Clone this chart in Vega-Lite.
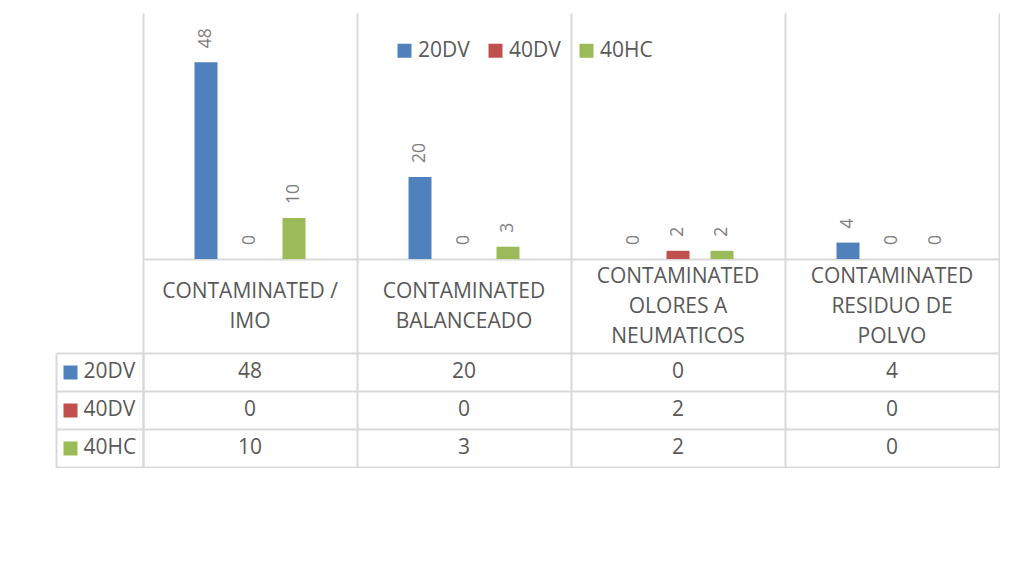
{
  "$schema": "https://vega.github.io/schema/vega-lite/v6.json",
  "padding": {"left": 55, "top": 13, "right": 0, "bottom": 0},
  "autosize": {"type": "pad"},
  "bounds": "flush",
  "spacing": 94,
  "background": "white",
  "config": {
    "font": "Open Sans",
    "view": {"stroke": null},
    "axis": {
      "domainColor": "#d9d9d9", "domainWidth": 2,
      "gridColor": "#d9d9d9", "gridWidth": 2,
      "tickColor": "#d9d9d9", "tickWidth": 2,
      "title": null
    }
  },
  "datasets": {
    "d": [
      {"category": "CONTAMINATED / IMO", "series": "20DV", "value": 48},
      {"category": "CONTAMINATED / IMO", "series": "40DV", "value": 0},
      {"category": "CONTAMINATED / IMO", "series": "40HC", "value": 10},
      {"category": "CONTAMINATED BALANCEADO", "series": "20DV", "value": 20},
      {"category": "CONTAMINATED BALANCEADO", "series": "40DV", "value": 0},
      {"category": "CONTAMINATED BALANCEADO", "series": "40HC", "value": 3},
      {"category": "CONTAMINATED OLORES A NEUMATICOS", "series": "20DV", "value": 0},
      {"category": "CONTAMINATED OLORES A NEUMATICOS", "series": "40DV", "value": 2},
      {"category": "CONTAMINATED OLORES A NEUMATICOS", "series": "40HC", "value": 2},
      {"category": "CONTAMINATED RESIDUO DE POLVO", "series": "20DV", "value": 4},
      {"category": "CONTAMINATED RESIDUO DE POLVO", "series": "40DV", "value": 0},
      {"category": "CONTAMINATED RESIDUO DE POLVO", "series": "40HC", "value": 0}
    ]
  },
  "vconcat": [
    {
      "width": 856,
      "height": 246,
      "data": {"name": "d"},
      "encoding": {
        "xOffset": {
          "field": "series", "type": "nominal",
          "sort": ["20DV", "40DV", "40HC"],
          "scale": {"paddingInner": 0, "paddingOuter": 0.932}
        },
        "y": {
          "field": "value", "type": "quantitative",
          "scale": {"domain": [0, 60], "nice": false},
          "axis": null
        }
      },
      "layer": [
        {
          "mark": {"type": "bar", "width": 23},
          "encoding": {
            "x": {
              "field": "category", "type": "nominal",
              "sort": ["CONTAMINATED / IMO", "CONTAMINATED BALANCEADO", "CONTAMINATED OLORES A NEUMATICOS", "CONTAMINATED RESIDUO DE POLVO"],
              "scale": {"paddingInner": 0, "paddingOuter": 0},
              "axis": {
                "orient": "bottom",
                "grid": false,
                "ticks": false,
                "domain": false,
                "labelAngle": 0,
                "labelPadding": {"condition": {"test": "datum.value === 'CONTAMINATED / IMO' || datum.value === 'CONTAMINATED BALANCEADO'", "value": 32}, "value": 17},
                "labelBaseline": "middle",
                "labelLineHeight": 30,
                "labelFontSize": 21,
                "labelColor": "#595959",
                "labelLimit": 0,
                "labelExpr": "datum.value == 'CONTAMINATED / IMO' ? ['CONTAMINATED /', 'IMO'] : datum.value == 'CONTAMINATED BALANCEADO' ? ['CONTAMINATED', 'BALANCEADO'] : datum.value == 'CONTAMINATED OLORES A NEUMATICOS' ? ['CONTAMINATED', 'OLORES A', 'NEUMATICOS'] : ['CONTAMINATED', 'RESIDUO DE', 'POLVO']"
              }
            },
            "color": {
              "field": "series", "type": "nominal",
              "scale": {"domain": ["20DV", "40DV", "40HC"], "range": ["#4f81bd", "#c0504d", "#9bbb59"]},
              "legend": {
                "orient": "none", "legendX": 251, "legendY": 27,
                "direction": "horizontal", "title": null,
                "symbolType": "square", "symbolSize": 196, "symbolStrokeWidth": 0,
                "labelFontSize": 21, "labelColor": "#595959", "labelOffset": 3,
                "columnPadding": 15, "padding": 0
              }
            }
          }
        },
        {
          "mark": {"type": "text", "angle": 270, "align": "left", "baseline": "middle", "dx": 14, "fontSize": 17.5, "color": "#808080"},
          "encoding": {
            "x": {
              "field": "category", "type": "nominal",
              "sort": ["CONTAMINATED / IMO", "CONTAMINATED BALANCEADO", "CONTAMINATED OLORES A NEUMATICOS", "CONTAMINATED RESIDUO DE POLVO"],
              "axis": {
                "orient": "bottom",
                "tickBand": "extent",
                "grid": true,
                "ticks": true,
                "tickSize": 94,
                "domain": true,
                "labels": false
              }
            },
            "text": {"field": "value", "type": "quantitative"}
          }
        }
      ],
      "resolve": {"axis": {"x": "independent"}}
    },
    {
      "width": 856,
      "height": 114,
      "data": {"name": "d"},
      "encoding": {
        "x": {
          "field": "category", "type": "nominal",
          "sort": ["CONTAMINATED / IMO", "CONTAMINATED BALANCEADO", "CONTAMINATED OLORES A NEUMATICOS", "CONTAMINATED RESIDUO DE POLVO"],
          "scale": {"paddingInner": 0, "paddingOuter": 0},
          "axis": {"orient": "bottom", "tickBand": "extent", "grid": true, "labels": false, "ticks": false, "domain": false}
        }
      },
      "layer": [
        {
          "mark": {"type": "text", "fontSize": 21, "color": "#595959", "baseline": "middle"},
          "encoding": {
            "y": {
              "field": "series", "type": "nominal", "sort": ["20DV", "40DV", "40HC"],
              "scale": {"paddingInner": 0, "paddingOuter": 0},
              "axis": {
                "orient": "left", "tickBand": "extent", "grid": true, "ticks": true, "tickSize": 87,
                "domain": true, "labels": false
              }
            },
            "text": {"field": "value", "type": "quantitative"}
          }
        },
        {
          "mark": {"type": "tick", "opacity": 0},
          "encoding": {
            "y": {
              "field": "series", "type": "nominal", "sort": ["20DV", "40DV", "40HC"],
              "axis": {
                "orient": "left", "domain": false, "grid": false, "ticks": false,
                "labels": true, "labelAlign": "left", "labelPadding": 60, "labelBaseline": "middle",
                "labelFontSize": 21, "labelColor": "#595959"
              }
            }
          }
        },
        {
          "mark": {"type": "tick", "opacity": 0},
          "encoding": {
            "y": {
              "field": "series", "type": "nominal", "sort": ["20DV", "40DV", "40HC"],
              "axis": {
                "orient": "left", "offset": 66, "domain": false, "grid": false, "labels": false,
                "ticks": true, "tickSize": 14, "tickWidth": 14, "tickCap": "butt",
                "tickColor": {"condition": [{"test": "datum.value === '20DV'", "value": "#4f81bd"}, {"test": "datum.value === '40DV'", "value": "#c0504d"}], "value": "#9bbb59"}
              }
            }
          }
        },
        {
          "mark": {"type": "tick", "opacity": 0},
          "encoding": {
            "y": {
              "field": "series", "type": "nominal", "sort": ["20DV", "40DV", "40HC"],
              "axis": {"orient": "left", "offset": 87, "domain": true, "grid": false, "labels": false, "ticks": false}
            }
          }
        }
      ],
      "resolve": {"axis": {"y": "independent"}}
    }
  ]
}
